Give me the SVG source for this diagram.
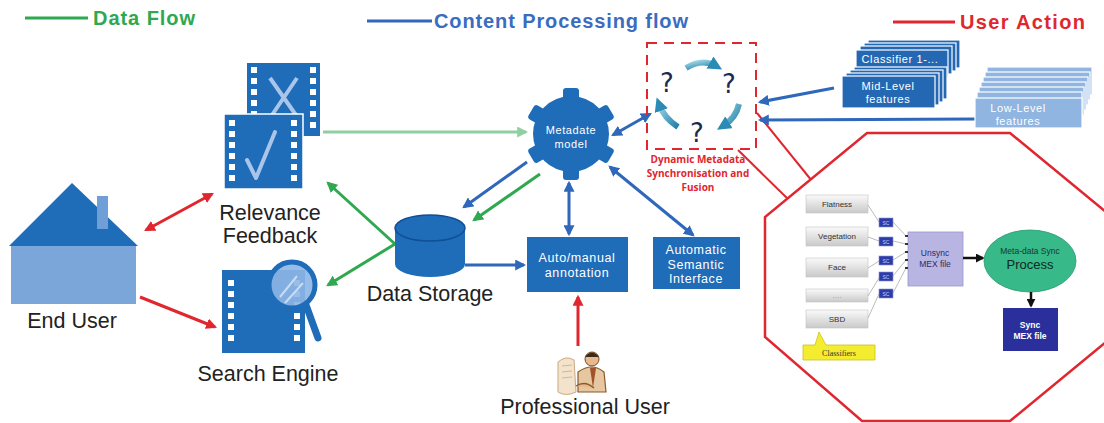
<svg xmlns="http://www.w3.org/2000/svg" width="1104" height="423" viewBox="0 0 1104 423">
  <defs>
    <style>
      .lbl { font-family: "Liberation Sans", Arial, sans-serif; font-size: 21.5px; fill: #222; text-anchor: middle; }
      .legend { font-family: "Liberation Sans", Arial, sans-serif; font-size: 20px; font-weight: bold; }
      .boxtxt { font-family: "Liberation Sans", Arial, sans-serif; font-size: 12.5px; letter-spacing: 0.6px; fill: #fff; text-anchor: middle; }
      .small { font-family: "Liberation Sans", Arial, sans-serif; font-size: 8px; fill: #333; text-anchor: middle; }
      .blue { fill: #1f6cb8; }
      .lightblue { fill: #7aa6da; }
      .hole { fill: #fff; }
      .con-red { stroke: #e0262e; stroke-width: 3; fill: none; }
      .con-green { stroke: #2fa84f; stroke-width: 3; fill: none; }
      .con-lgreen { stroke: #8fd0a2; stroke-width: 3; fill: none; }
      .con-blue { stroke: #2f67bb; stroke-width: 3; fill: none; }
      .thin { stroke: #aaa; stroke-width: 0.8; fill: none; }
      .stack { fill: #2468b4; stroke: #fff; stroke-width: 1.2; }
      .stack-l { fill: #8fb5e0; stroke: #fff; stroke-width: 1.2; }
      .cls { fill: url(#grayGrad); stroke: #c4c4c4; stroke-width: 0.6; }
      .sc { fill: #2e3ca8; stroke: #8890d8; stroke-width: 0.6; }
      .q { font-family: "DejaVu Sans", sans-serif; font-size: 26px; fill: #1b2a55; text-anchor: middle; }
    </style>
    <linearGradient id="grayGrad" x1="0" y1="0" x2="0" y2="1">
      <stop offset="0" stop-color="#fafafa"/>
      <stop offset="1" stop-color="#c9c9c9"/>
    </linearGradient>
    <linearGradient id="tealGrad" x1="0" y1="0" x2="1" y2="1">
      <stop offset="0" stop-color="#9fd6e6"/>
      <stop offset="1" stop-color="#1f7fa8"/>
    </linearGradient>
    <marker id="ah-red" viewBox="0 0 10 10" refX="8" refY="5" markerWidth="11" markerHeight="11" markerUnits="userSpaceOnUse" orient="auto-start-reverse">
      <path d="M0,0 L10,5 L0,10 z" fill="#e0262e"/>
    </marker>
    <marker id="ah-green" viewBox="0 0 10 10" refX="8" refY="5" markerWidth="11" markerHeight="11" markerUnits="userSpaceOnUse" orient="auto-start-reverse">
      <path d="M0,0 L10,5 L0,10 z" fill="#2fa84f"/>
    </marker>
    <marker id="ah-lgreen" viewBox="0 0 10 10" refX="8" refY="5" markerWidth="11" markerHeight="11" markerUnits="userSpaceOnUse" orient="auto-start-reverse">
      <path d="M0,0 L10,5 L0,10 z" fill="#8fd0a2"/>
    </marker>
    <marker id="ah-blue" viewBox="0 0 10 10" refX="8" refY="5" markerWidth="11" markerHeight="11" markerUnits="userSpaceOnUse" orient="auto-start-reverse">
      <path d="M0,0 L10,5 L0,10 z" fill="#2f67bb"/>
    </marker>
    <marker id="ah-black" viewBox="0 0 10 10" refX="8" refY="5" markerWidth="9" markerHeight="9" markerUnits="userSpaceOnUse" orient="auto">
      <path d="M0,0 L10,5 L0,10 z" fill="#111"/>
    </marker>
    <marker id="ah-teal" viewBox="0 0 10 10" refX="5" refY="5" markerWidth="14" markerHeight="14" markerUnits="userSpaceOnUse" orient="auto">
      <path d="M0,0 L10,5 L0,10 z" fill="#2a8cb4"/>
    </marker>
    <!-- film strip sprocket column -->
    <g id="holes6">
      <rect x="0" y="0" width="6" height="6" class="hole"/>
      <rect x="0" y="11" width="6" height="6" class="hole"/>
      <rect x="0" y="22" width="6" height="6" class="hole"/>
      <rect x="0" y="33" width="6" height="6" class="hole"/>
      <rect x="0" y="44" width="6" height="6" class="hole"/>
      <rect x="0" y="55" width="6" height="6" class="hole"/>
    </g>
  </defs>

  <rect width="1104" height="423" fill="#fff"/>

  <!-- legend -->
  <g id="legend">
    <line x1="25" y1="18" x2="88" y2="18" stroke="#2fa84f" stroke-width="3"/>
    <text x="93" y="25" class="legend" fill="#2fa84f" textLength="102">Data Flow</text>
    <line x1="367" y1="21" x2="432" y2="21" stroke="#2f67bb" stroke-width="3"/>
    <text x="434" y="28" class="legend" fill="#3a6cc0" textLength="254">Content Processing flow</text>
    <line x1="893" y1="22" x2="955" y2="22" stroke="#e0262e" stroke-width="3"/>
    <text x="960" y="29" class="legend" fill="#e0262e" textLength="125">User Action</text>
  </g>

  <!-- callout frame (drawn beneath the nodes) -->
  <g id="sync-detail-frame">
    <line x1="757" y1="113" x2="812" y2="181" stroke="#e0262e" stroke-width="2"/>
    <line x1="738" y1="150" x2="789" y2="200" stroke="#e0262e" stroke-width="2"/>
    <polygon points="867,133 1010,133 1112,217 1112,337 1010,421 862,421 765,337 765,217" fill="#fff" stroke="#e0262e" stroke-width="2.5"/>
  </g>

  <!-- connectors -->
  <g id="connectors">
    <line x1="146" y1="230" x2="212" y2="194" class="con-red" marker-start="url(#ah-red)" marker-end="url(#ah-red)"/>
    <line x1="140" y1="297" x2="215" y2="327" class="con-red" marker-end="url(#ah-red)"/>
    <line x1="578" y1="346" x2="578" y2="297" class="con-red" marker-end="url(#ah-red)"/>
    <line x1="323" y1="132" x2="526" y2="132" class="con-lgreen" marker-end="url(#ah-lgreen)"/>
    <line x1="395" y1="244" x2="328" y2="183" class="con-green" marker-end="url(#ah-green)"/>
    <line x1="395" y1="244" x2="328" y2="285" class="con-green" marker-end="url(#ah-green)"/>
    <line x1="540" y1="174" x2="474" y2="220" class="con-green" marker-end="url(#ah-green)"/>
    <line x1="527" y1="162" x2="464" y2="207" class="con-blue" marker-end="url(#ah-blue)"/>
    <line x1="465" y1="265" x2="524" y2="265" class="con-blue" marker-end="url(#ah-blue)"/>
    <line x1="569" y1="183" x2="569" y2="234" class="con-blue" marker-start="url(#ah-blue)" marker-end="url(#ah-blue)"/>
    <line x1="610" y1="167" x2="693" y2="235" class="con-blue" marker-start="url(#ah-blue)" marker-end="url(#ah-blue)"/>
    <line x1="613" y1="135" x2="650" y2="114" class="con-blue" marker-start="url(#ah-blue)" marker-end="url(#ah-blue)"/>
    <line x1="834" y1="88" x2="760" y2="102" class="con-blue" marker-end="url(#ah-blue)"/>
    <line x1="976" y1="119" x2="760" y2="120" class="con-blue" marker-end="url(#ah-blue)"/>
  </g>

  <!-- End User -->
  <g id="end-user">
    <rect x="11" y="245" width="125" height="59" class="lightblue"/>
    <polygon points="9,246 72,183 138,246" class="blue"/>
    <rect x="97" y="196" width="11" height="33" fill="#6f9fd6"/>
    <text x="72" y="328" class="lbl">End User</text>
  </g>

  <!-- Relevance Feedback -->
  <g id="relevance-feedback">
    <rect x="247" y="63" width="73" height="73" class="blue"/>
    <use href="#holes6" x="251" y="67"/>
    <use href="#holes6" x="310" y="67"/>
    <path d="M270,78 L298,118 M297,78 L270,118" stroke="#a9c5ea" stroke-width="4" fill="none"/>
    <rect x="224" y="114" width="79" height="75" class="blue" stroke="#fff" stroke-width="1.5"/>
    <use href="#holes6" x="229" y="120"/>
    <use href="#holes6" x="291" y="120"/>
    <path d="M247,160 L256,178 L275,132" stroke="#a9c5ea" stroke-width="4" fill="none" stroke-linecap="round" stroke-linejoin="round"/>
    <text x="270" y="220" class="lbl">Relevance</text>
    <text x="270" y="243" class="lbl">Feedback</text>
  </g>

  <!-- Search Engine -->
  <g id="search-engine">
    <rect x="222" y="270" width="83" height="83" class="blue"/>
    <use href="#holes6" x="228" y="280"/>
    <use href="#holes6" x="294" y="280"/>
    <line x1="306" y1="305" x2="318" y2="338" stroke="#1f6cb8" stroke-width="7" stroke-linecap="round"/>
    <circle cx="292" cy="285" r="23" fill="#8db6e6" fill-opacity="0.9" stroke="#1f6cb8" stroke-width="5"/>
    <path d="M280,297 L297,276 M285,303 L303,283" stroke="#c8dcf3" stroke-width="2" fill="none"/>
    <text x="268" y="381" class="lbl">Search Engine</text>
  </g>

  <!-- Data Storage -->
  <g id="data-storage">
    <path d="M395,228 L395,264 A35,13 0 0 0 465,264 L465,228 Z" class="blue"/>
    <ellipse cx="430" cy="228" rx="35" ry="13" fill="#1f6cb8" stroke="#0f4f94" stroke-width="1.5"/>
    <text x="430" y="301" class="lbl">Data Storage</text>
  </g>

  <!-- Metadate model -->
  <g id="metadate-model" transform="translate(571,134)">
    <circle r="38" class="blue"/>
    <g class="blue">
      <rect x="-8" y="-46" width="16" height="14" rx="3"/>
      <rect x="-8" y="-46" width="16" height="14" rx="3" transform="rotate(60)"/>
      <rect x="-8" y="-46" width="16" height="14" rx="3" transform="rotate(120)"/>
      <rect x="-8" y="-46" width="16" height="14" rx="3" transform="rotate(180)"/>
      <rect x="-8" y="-46" width="16" height="14" rx="3" transform="rotate(240)"/>
      <rect x="-8" y="-46" width="16" height="14" rx="3" transform="rotate(300)"/>
    </g>
    <text x="0" y="0" class="boxtxt" style="font-size:11px">Metadate</text>
    <text x="0" y="14" class="boxtxt" style="font-size:11px">model</text>
  </g>

  <!-- Dynamic Metadata Synchronisation and Fusion -->
  <g id="dynamic-sync">
    <rect x="647" y="43" width="109" height="106" fill="none" stroke="#e0262e" stroke-width="2" stroke-dasharray="10,7"/>
    <path d="M686,68 Q702,58 716,66" stroke="url(#tealGrad)" stroke-width="6" fill="none" marker-end="url(#ah-teal)"/>
    <path d="M739,104 Q736,118 723,126" stroke="url(#tealGrad)" stroke-width="6" fill="none" marker-end="url(#ah-teal)"/>
    <path d="M678,127 Q664,118 659,104" stroke="url(#tealGrad)" stroke-width="6" fill="none" marker-end="url(#ah-teal)"/>
    <text x="667" y="92" class="q">?</text>
    <text x="729" y="93" class="q">?</text>
    <text x="697" y="142" class="q">?</text>
    <g style="font-family:'Open Sans','Liberation Sans',sans-serif;font-size:10px;font-weight:bold;fill:#e0262e;text-anchor:middle">
      <text x="698" y="163">Dynamic Metadata</text>
      <text x="698" y="177">Synchronisation and</text>
      <text x="698" y="191">Fusion</text>
    </g>
  </g>

  <!-- Mid-level features / classifiers stack -->
  <g id="mid-level-features">
    <rect x="868" y="40" width="92" height="28" class="stack"/>
    <rect x="864" y="43" width="92" height="28" class="stack"/>
    <rect x="860" y="46" width="92" height="28" class="stack"/>
    <rect x="856" y="50" width="92" height="28" class="stack"/>
    <text x="900" y="63" class="boxtxt" style="font-size:11px">Classifier 1-...</text>
    <rect x="854" y="67" width="93" height="32" class="stack"/>
    <rect x="850" y="70" width="93" height="32" class="stack"/>
    <rect x="846" y="73" width="93" height="32" class="stack"/>
    <rect x="842" y="76" width="93" height="32" class="stack"/>
    <text x="888" y="90" class="boxtxt" style="font-size:11px">Mid-Level</text>
    <text x="888" y="103" class="boxtxt" style="font-size:11px">features</text>
  </g>

  <!-- Low-level features stack -->
  <g id="low-level-features">
    <rect x="987" y="67" width="105" height="28" class="stack-l"/>
    <rect x="985" y="72" width="105" height="28" class="stack-l"/>
    <rect x="983" y="77" width="105" height="28" class="stack-l"/>
    <rect x="981" y="82" width="105" height="28" class="stack-l"/>
    <rect x="979" y="87" width="105" height="28" class="stack-l"/>
    <rect x="977" y="92" width="105" height="28" class="stack-l"/>
    <rect x="975" y="98" width="107" height="30" class="stack-l"/>
    <text x="1018" y="112" class="boxtxt" style="font-size:11px">Low-Level</text>
    <text x="1018" y="125" class="boxtxt" style="font-size:11px">features</text>
  </g>

  <!-- Auto/manual annotation -->
  <g id="annotation">
    <rect x="527" y="237" width="101" height="55" class="blue"/>
    <text x="577" y="262" class="boxtxt">Auto/manual</text>
    <text x="577" y="277" class="boxtxt">annotation</text>
  </g>

  <!-- Automatic Semantic Interface -->
  <g id="semantic-interface">
    <rect x="653" y="237" width="87" height="52" class="blue"/>
    <text x="696" y="254" class="boxtxt">Automatic</text>
    <text x="696" y="268.5" class="boxtxt">Semantic</text>
    <text x="696" y="283" class="boxtxt">Interface</text>
  </g>

  <!-- Professional User -->
  <g id="professional-user">
    <path d="M558,362 Q566,355 574,360 L576,392 Q566,397 558,392 Z" fill="#f3e3cc" stroke="#caa982" stroke-width="1"/>
    <path d="M562,366 L572,365 M562,372 L572,371 M562,378 L572,377" stroke="#caa982" stroke-width="0.8"/>
    <path d="M578,372 Q592,362 604,372 L606,392 L578,392 Z" fill="#e7c7a0" stroke="#8a5a2b" stroke-width="1.2"/>
    <path d="M590,368 L593,388 L596,368 Z" fill="#a0522d"/>
    <circle cx="592" cy="359" r="7" fill="#e8b88e" stroke="#7a4a24" stroke-width="1"/>
    <path d="M585,357 Q592,348 599,357" fill="#3a2a1a"/>
    <path d="M576,386 Q585,380 594,388" stroke="#8a5a2b" stroke-width="1.5" fill="#e8b88e"/>
    <text x="585" y="414" class="lbl">Professional User</text>
  </g>

  <!-- Synchronisation process detail -->
  <g id="sync-detail">
    <g id="classifier-boxes">
      <rect x="806" y="195" width="62" height="18" class="cls"/>
      <text x="837" y="207" class="small">Flatness</text>
      <rect x="806" y="227" width="62" height="19" class="cls"/>
      <text x="837" y="239" class="small">Vegetation</text>
      <rect x="806" y="258" width="62" height="19" class="cls"/>
      <text x="837" y="270" class="small">Face</text>
      <rect x="806" y="289" width="62" height="13" class="cls"/>
      <text x="837" y="298" class="small" style="fill:#999">....</text>
      <rect x="806" y="310" width="62" height="18" class="cls"/>
      <text x="837" y="322" class="small">SBD</text>
    </g>
    <g id="classifiers-note">
      <path d="M803,345 L815,345 L819,332 L826,345 L875,345 L875,360 L803,360 Z" fill="#f4ec2e" stroke="#c9c02a" stroke-width="0.8"/>
      <text x="839" y="356" style="font-family:'Liberation Serif',serif;font-size:8px;fill:#333;text-anchor:middle">Classifiers</text>
    </g>
    <g id="sc-links">
      <path d="M868,205 L879,222" class="thin"/>
      <path d="M868,237 L879,241" class="thin"/>
      <path d="M868,268 L879,261" class="thin"/>
      <path d="M868,296 L879,278" class="thin"/>
      <path d="M868,318 L879,294" class="thin"/>
      <path d="M893,222 L906,236" class="thin"/>
      <path d="M893,241 L906,244" class="thin"/>
      <path d="M893,260 L906,252" class="thin"/>
      <path d="M893,276 L906,260" class="thin"/>
      <path d="M893,293 L906,268" class="thin"/>
    </g>
    <g id="sc-boxes">
      <rect x="879" y="218" width="14" height="9" class="sc"/>
      <rect x="879" y="237" width="14" height="9" class="sc"/>
      <rect x="879" y="256" width="14" height="9" class="sc"/>
      <rect x="879" y="272" width="14" height="9" class="sc"/>
      <rect x="879" y="289" width="14" height="9" class="sc"/>
      <g style="font-family:'Liberation Sans',sans-serif;font-size:5px;fill:#c8ccf4;text-anchor:middle">
        <text x="886" y="224.5">SC</text>
        <text x="886" y="243.5">SC</text>
        <text x="886" y="262.5">SC</text>
        <text x="886" y="278.5">SC</text>
        <text x="886" y="295.5">SC</text>
      </g>
    </g>
    <g id="unsync-mex">
      <rect x="908" y="232" width="55" height="54" fill="#b9b5e2" stroke="#9a96cc" stroke-width="0.8"/>
      <g fill="#333">
        <rect x="905" y="235" width="3" height="2"/>
        <rect x="905" y="243" width="3" height="2"/>
        <rect x="905" y="251" width="3" height="2"/>
        <rect x="905" y="259" width="3" height="2"/>
        <rect x="905" y="267" width="3" height="2"/>
      </g>
      <text x="935" y="256" class="small" style="fill:#2a2a6a;font-size:8.5px">Unsync</text>
      <text x="935" y="267" class="small" style="fill:#2a2a6a;font-size:8.5px">MEX file</text>
    </g>
    <line x1="963" y1="258" x2="983" y2="258" stroke="#111" stroke-width="2.5" marker-end="url(#ah-black)"/>
    <g id="sync-process">
      <ellipse cx="1030" cy="261" rx="46" ry="31" fill="#37b98a" stroke="#2a9a70" stroke-width="0.8"/>
      <text x="1030" y="254" class="small" style="fill:#163a2a;font-size:8.5px">Meta-data Sync</text>
      <text x="1030" y="269" style="font-family:'Liberation Sans',sans-serif;font-size:13px;fill:#0d2a1c;text-anchor:middle">Process</text>
    </g>
    <line x1="1031" y1="292" x2="1031" y2="306" stroke="#111" stroke-width="2.5" marker-end="url(#ah-black)"/>
    <g id="sync-mex">
      <rect x="1003" y="308" width="55" height="43" fill="#2b2f9c"/>
      <text x="1030" y="328" class="small" style="fill:#fff;font-weight:bold;font-size:8.5px">Sync</text>
      <text x="1030" y="339" class="small" style="fill:#fff;font-weight:bold;font-size:8.5px">MEX file</text>
    </g>
  </g>
</svg>
